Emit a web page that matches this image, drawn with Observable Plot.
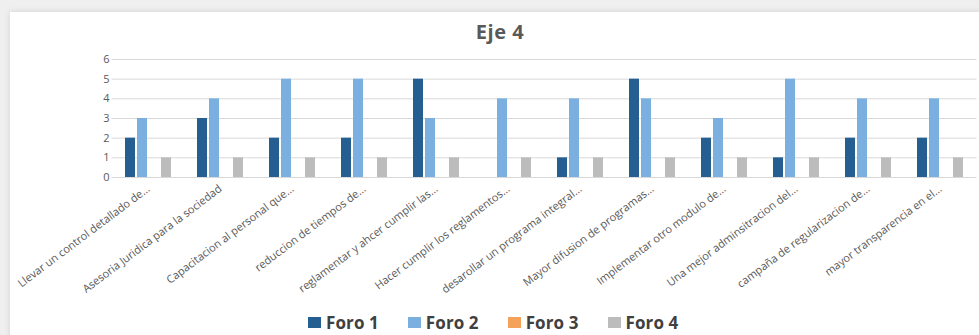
<!DOCTYPE html>
<html>
<head>
<meta charset="utf-8">
<script src="https://cdn.jsdelivr.net/npm/d3@7"></script>
<script src="https://cdn.jsdelivr.net/npm/@observablehq/plot@0.6"></script>
<style>
  html, body { margin: 0; padding: 0; background: #efefef; width: 979px; height: 335px; overflow: hidden; }
  #card { position: absolute; left: 10px; top: 12px; width: 975px; height: 330px; background: #fff;
          box-shadow: 0 0 6px rgba(0,0,0,0.12); }
  #title { position: absolute; left: 0; top: 18px; width: 1000px; text-align: center;
           font: bold 20px "Open Sans", sans-serif; color: #595959; letter-spacing: 0.5px; }
  #chart { position: absolute; left: 0; top: 45px; }
  #legend { position: absolute; left: 308px; top: 311px; display: flex; gap: 29px;
            font: bold 17px "Open Sans", sans-serif; color: #404040; letter-spacing: 0.1px; }
  #legend span.item { display: flex; align-items: center; gap: 5px; }
  #legend span.sw { display: inline-block; width: 13px; height: 11px; }
</style>
</head>
<body>
<div id="card"></div>
<div id="title">Eje 4</div>
<div id="chart"></div>
<div id="legend"></div>
<script>
const categories = [
  "Llevar un control detallado de...",
  "Asesoria Juridica para la sociedad",
  "Capacitacion al personal que...",
  "reduccion de tiempos de...",
  "reglamentar y ahcer cumplir las...",
  "Hacer cumplir los reglamentos...",
  "desarollar un programa integral...",
  "Mayor difusion de programas...",
  "Implementar otro modulo de...",
  "Una mejor adminsitracion del...",
  "campaña de regularizacion de...",
  "mayor transparencia en el..."
];
const series = ["Foro 1", "Foro 2", "Foro 3", "Foro 4"];
const foro1 = [2, 3, 2, 2, 5, 0, 1, 5, 2, 1, 2, 2];
const foro2 = [3, 4, 5, 5, 3, 4, 4, 4, 3, 5, 4, 4];
const foro3 = [0, 0, 0, 0, 0, 0, 0, 0, 0, 0, 0, 0];
const foro4 = [1, 1, 1, 1, 1, 1, 1, 1, 1, 1, 1, 1];
const colors = ["#255e91", "#7aafdf", "#f4a25a", "#bcbcbc"];
const yTicks = [0, 1, 2, 3, 4, 5, 6];

const valuesBySeries = [foro1, foro2, foro3, foro4];
const data = [];
categories.forEach((c, i) => {
  series.forEach((s, j) => data.push({category: c, series: s, value: valuesBySeries[j][i]}));
});

const chart = Plot.plot({
  width: 979,
  height: 255,
  marginLeft: 112,
  marginRight: 2,
  marginTop: 14,
  marginBottom: 123,
  style: {fontFamily: "'Open Sans', sans-serif", color: "#595959", background: "transparent"},
  fx: {domain: categories, paddingInner: 0.333, paddingOuter: 0.1667, label: null, axis: null},
  x: {domain: series, paddingInner: 0.2, paddingOuter: 0, axis: null},
  y: {domain: [0, 6], ticks: yTicks, label: null, axis: null},
  color: {domain: series, range: colors},
  marks: [
    Plot.ruleY(yTicks, {y: d => d, stroke: "#d9d9d9", strokeWidth: 1, insetLeft: -12.5, insetRight: -12.5}),
    Plot.axisY({ticks: yTicks, tickFormat: d => String(d), tickSize: 0, tickPadding: 15, label: null, fontSize: 11, fill: "#595959"}),
    Plot.barY(data, {fx: "category", x: "series", y: "value", fill: "series"}),
    Plot.axisFx({anchor: "bottom", tickSize: 0, tickRotate: -37, tickPadding: 10, label: null, fontSize: 11, fill: "#595959"})
  ]
});
document.getElementById("chart").appendChild(chart);

const legend = document.getElementById("legend");
series.forEach((s, j) => {
  const item = document.createElement("span");
  item.className = "item";
  const sw = document.createElement("span");
  sw.className = "sw";
  sw.style.background = colors[j];
  item.appendChild(sw);
  item.appendChild(document.createTextNode(s));
  legend.appendChild(item);
});
</script>
</body>
</html>
